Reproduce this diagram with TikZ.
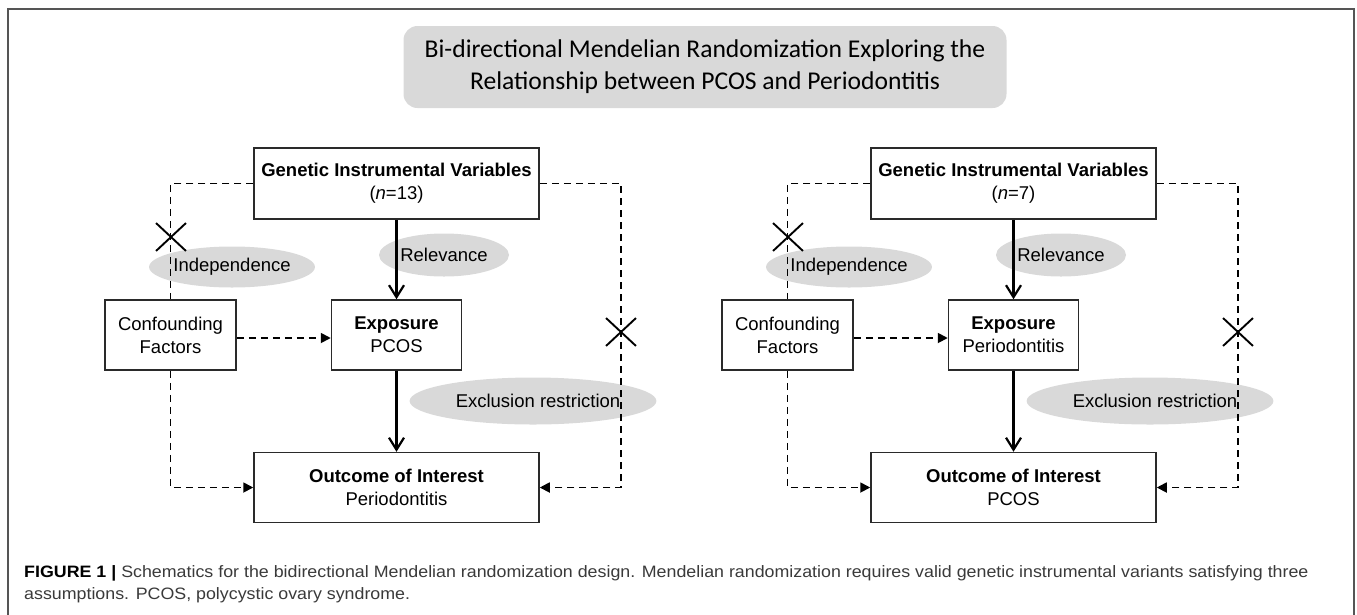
\documentclass[tikz,border=0pt]{standalone}
\usepackage{fontspec}
\setmainfont{Liberation Sans}
\newfontfamily\titlefont{Carlito}
\usetikzlibrary{arrows.meta,shapes.geometric,shapes.misc,calc}
\definecolor{ellgray}{HTML}{D9D9D9}
\definecolor{boxline}{HTML}{2A2A2A}
\definecolor{frameline}{HTML}{555555}
\definecolor{captext}{HTML}{3A3A3A}
\begin{document}
\begin{tikzpicture}[x=1pt,y=-1pt,
  stepbox/.style={draw=boxline,line width=1.5pt,fill=white,inner sep=0pt,align=center,font=\fontsize{18.5}{23}\selectfont},
  ellnode/.style={ellipse,fill=ellgray,inner sep=0pt,font=\fontsize{18.5}{22}\selectfont},
  solidarrow/.style={line width=2.2pt,-{Straight Barb[length=12pt,width=15pt,line width=2.2pt]}},
  dashline/.style={line width=1.8pt,dash pattern=on 7pt off 5pt},
  dasharrow/.style={dashline,-{Triangle[length=10pt,width=10pt]}},
  crossmark/.style={cross out,draw=black,line width=1.9pt,minimum width=28pt,minimum height=26pt,inner sep=0pt},
  captionline/.style={anchor=base west,inner sep=0pt,font=\fontsize{16.5}{22}\selectfont,text=captext}]
\useasboundingbox (0,0) rectangle (1357,614);
\draw[frameline,line width=1.3pt] (8,640) -- (8,9) -- (1354,9) -- (1354,640);
\node[fill=ellgray,rounded corners=14pt,minimum width=603pt,minimum height=82pt,align=center,
      font=\titlefont\fontsize{25.6}{32}\selectfont,inner sep=0pt] (title) at (705,67)
  {Bi-directional Mendelian Randomization Exploring the\\Relationship between PCOS and Periodontitis};
\foreach \p/\dx/\nn/\ex/\oc in {L/0/13/PCOS/Periodontitis,R/617/7/Periodontitis/PCOS}{
\begin{scope}[xshift=\dx pt]
  \node[ellnode,minimum width=152pt,minimum height=41pt] (\p ind) at (232,267) {Independence};
  \node[ellnode,minimum width=130pt,minimum height=43pt] (\p rel) at (444,255) {Relevance};
  \node[ellnode,minimum width=205pt,minimum height=47pt] (\p exc) at (533,401) {\hspace*{10pt}Exclusion restriction};
  \node[stepbox,minimum width=285pt,minimum height=71pt] (\p gen) at (396.5,183.5)
    {\textbf{Genetic Instrumental Variables}\\(\textit{n}=\nn)};
  \node[stepbox,minimum width=131pt,minimum height=70pt] (\p conf) at (170.5,335) {Confounding\\Factors};
  \node[stepbox,minimum width=130pt,minimum height=70pt] (\p exp) at (396.5,335) {\textbf{Exposure}\\\ex};
  \node[stepbox,minimum width=285pt,minimum height=70pt] (\p out) at (396.5,487.5) {\textbf{Outcome of Interest}\\\oc};
  \coordinate (\p rx) at (621,183.5);
  \draw[solidarrow] (\p gen) -- (\p exp);
  \draw[solidarrow] (\p exp) -- (\p out);
  \draw[dasharrow] ([yshift=-3pt]\p conf.east) -- ([yshift=-3pt]\p exp.west);
  \draw[dashline] (\p gen.west) -| (\p conf.north);
  \draw[dasharrow] (\p conf.south) |- (\p out.west);
  \draw[dasharrow] (\p gen.east) -- (\p rx) |- (\p out.east);
  \node[crossmark] (\p xi) at (171,237) {};
  \node[crossmark] (\p xe) at (621,332) {};
\end{scope}
}
\node[captionline] (cap1) at (24,577)
  {\scalebox{1.08}[1]{\textcolor{black}{\textbf{FIGURE 1 |}} Schematics for the bidirectional Mendelian randomization design. Mendelian randomization requires valid genetic instrumental variants satisfying three}};
\node[captionline] (cap2) at (24,599)
  {\scalebox{1.08}[1]{assumptions. PCOS, polycystic ovary syndrome.}};
\end{tikzpicture}
\end{document}
